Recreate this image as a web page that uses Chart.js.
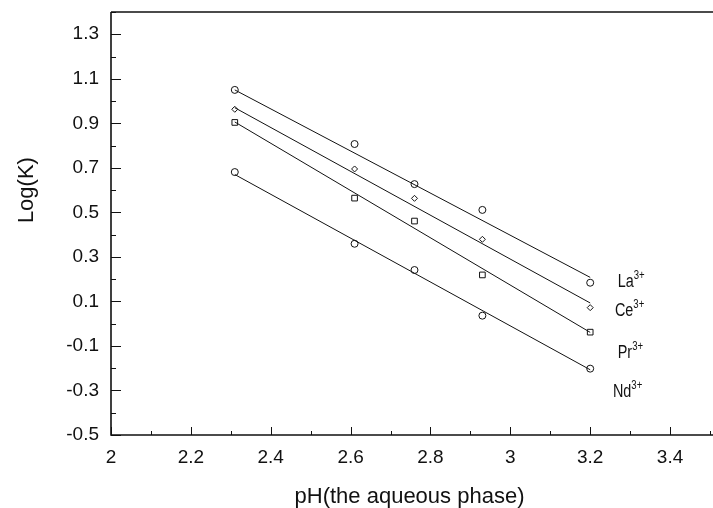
<!DOCTYPE html>
<html>
<head>
<meta charset="utf-8">
<script src="https://cdn.jsdelivr.net/npm/chart.js@4.4.1/dist/chart.umd.min.js"></script>
<style>
  html, body { margin: 0; padding: 0; background: #fff; }
  #wrap { width: 713px; height: 508px; }
</style>
</head>
<body>
<div id="wrap"><canvas id="grafica" width="713" height="508"></canvas></div>
<script>
// valores de pH medidos (eje x)
const phValores = [2.31, 2.61, 2.76, 2.93, 3.20];

// log(K) leído para cada ion
const logLa = [1.05, 0.807, 0.627, 0.511, 0.184];
const logCe = [0.963, 0.695, 0.563, 0.379, 0.072];
const logPr = [0.904, 0.564, 0.461, 0.219, -0.038];
const logNd = [0.681, 0.359, 0.241, 0.036, -0.202];

// extremos de las rectas ajustadas
const rectaX = [2.31, 3.20];
const rectaLa = [1.05, 0.208];
const rectaCe = [0.97, 0.093];
const rectaPr = [0.906, -0.039];
const rectaNd = [0.67, -0.207];

// etiquetas de los iones
const iones = ["La", "Ce", "Pr", "Nd"];
const ionesY = [0.165, 0.034, -0.154, -0.33];
const ionesX = [3.269, 3.262, 3.269, 3.257];

// ticks
const ticksX = [2, 2.2, 2.4, 2.6, 2.8, 3, 3.2, 3.4];
const ticksY = [-0.5, -0.3, -0.1, 0.1, 0.3, 0.5, 0.7, 0.9, 1.1, 1.3];

const tituloY = "Log(K)";
const fuente = "'Liberation Sans', Arial, sans-serif";

function puntos(xs, ys) {
    return xs.map((x, i) => ({ x: x, y: ys[i] }));
}

function serie(ys, estilo, radio) {
    return {
        type: "scatter",
        data: puntos(phValores, ys),
        pointStyle: estilo,
        pointRadius: radio,
        pointBackgroundColor: "#fff",
        pointBorderColor: "#111",
        pointBorderWidth: 1,
        showLine: false
    };
}

function recta(ys) {
    return {
        type: "line",
        data: puntos(rectaX, ys),
        borderColor: "#111",
        borderWidth: 1,
        pointRadius: 0,
        fill: false
    };
}

// ejes con ticks hacia adentro, borde superior, título Y y etiquetas de iones
const ejesPlugin = {
    id: "ejes",
    afterDatasetsDraw(chart) {
        const ctx = chart.ctx;
        const a = chart.chartArea;
        const sx = chart.scales.x;
        const sy = chart.scales.y;
        ctx.save();
        ctx.strokeStyle = "#111";
        ctx.lineWidth = 1.6;
        ctx.beginPath();
        ctx.moveTo(a.left, a.top);
        ctx.lineTo(chart.width, a.top);
        ctx.moveTo(a.left, a.top);
        ctx.lineTo(a.left, a.bottom);
        ctx.lineTo(chart.width, a.bottom);
        ctx.stroke();

        ctx.lineWidth = 1;
        ctx.beginPath();
        for (let v = 2; v <= 3.5001; v += 0.1) {
            const px = Math.round(sx.getPixelForValue(v)) + 0.5;
            const mayor = Math.abs(v * 5 - Math.round(v * 5)) < 0.01;
            ctx.moveTo(px, a.bottom);
            ctx.lineTo(px, a.bottom - (mayor ? 8 : 4));
        }
        for (let v = -0.5; v <= 1.4001; v += 0.1) {
            const py = Math.round(sy.getPixelForValue(v)) + 0.5;
            const mayor = ticksY.some(t => Math.abs(t - v) < 0.01);
            ctx.moveTo(a.left, py);
            ctx.lineTo(a.left + (mayor ? 10 : 5), py);
        }
        ctx.stroke();

        // título del eje Y, un poco por encima del centro como en la figura
        ctx.fillStyle = "#111";
        ctx.save();
        ctx.translate(27, sy.getPixelForValue(0.6));
        ctx.rotate(-Math.PI / 2);
        ctx.font = "22px " + fuente;
        ctx.textAlign = "center";
        ctx.textBaseline = "middle";
        ctx.fillText(tituloY, 0, 0);
        ctx.restore();

        // etiquetas La3+, Ce3+ ... (letra estrecha)
        ctx.textBaseline = "alphabetic";
        ctx.textAlign = "left";
        iones.forEach((ion, i) => {
            const px = sx.getPixelForValue(ionesX[i]);
            const py = sy.getPixelForValue(ionesY[i]);
            ctx.save();
            ctx.translate(px, py);
            ctx.scale(0.8, 1);
            ctx.font = "18px " + fuente;
            ctx.fillText(ion, 0, 0);
            const w = ctx.measureText(ion).width;
            ctx.font = "12px " + fuente;
            ctx.fillText("3+", w, -8);
            ctx.restore();
        });
        ctx.restore();
    }
};

new Chart(document.getElementById("grafica"), {
    data: {
        datasets: [
            recta(rectaLa), recta(rectaCe), recta(rectaPr), recta(rectaNd),
            serie(logLa, "circle", 3.5),
            serie(logCe, "rectRot", 3),
            serie(logPr, "rect", 4),
            serie(logNd, "circle", 3.5)
        ]
    },
    options: {
        responsive: false,
        animation: false,
        layout: { padding: { top: 12, right: 0, left: 0, bottom: 0 } },
        plugins: { legend: { display: false }, tooltip: { enabled: false } },
        scales: {
            x: {
                type: "linear",
                min: 2,
                max: 3.495,
                afterFit: s => { s.height = 73; s.paddingLeft = 0; s.paddingRight = 0; },
                afterBuildTicks: s => { s.ticks = ticksX.map(v => ({ value: v })); },
                grid: { display: false },
                border: { display: false },
                ticks: {
                    color: "#111",
                    font: { family: fuente, size: 19 },
                    padding: 3,
                    maxRotation: 0,
                    autoSkip: false,
                    callback: v => String(v)
                },
                title: {
                    display: true,
                    text: "pH(the aqueous phase)",
                    color: "#111",
                    font: { family: fuente, size: 22, lineHeight: 1.0 },
                    padding: { top: 0, bottom: 0 }
                }
            },
            y: {
                type: "linear",
                min: -0.5,
                max: 1.4,
                afterFit: s => { s.width = 111; s.paddingTop = 0; s.paddingBottom = 0; },
                afterBuildTicks: s => { s.ticks = ticksY.map(v => ({ value: v })); },
                grid: { display: false },
                border: { display: false },
                ticks: {
                    color: "#111",
                    font: { family: fuente, size: 19 },
                    padding: 4,
                    autoSkip: false,
                    callback: v => String(Math.round(v * 10) / 10)
                }
            }
        }
    },
    plugins: [ejesPlugin]
});
</script>
</body>
</html>
